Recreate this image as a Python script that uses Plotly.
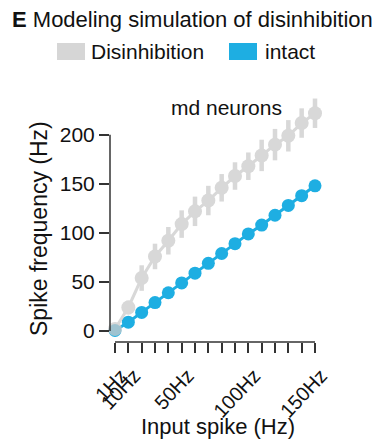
import plotly.graph_objects as go

input_hz = ["1Hz", "10Hz", "20Hz", "30Hz", "40Hz", "50Hz", "60Hz", "70Hz",
            "80Hz", "90Hz", "100Hz", "110Hz", "120Hz", "130Hz", "140Hz", "150Hz"]
intact = [0.5, 9, 19, 29, 39, 49, 59, 69, 79, 89, 99, 108, 118, 128, 138, 148]
disinhibition = [2, 24, 54, 76, 92, 109, 122, 133, 146, 158, 168, 179, 190, 199, 212, 222]
disinhibition_err = [2, 7, 13, 13, 14, 14, 15, 15, 14, 14, 14, 16, 16, 16, 15, 15]
x_tick_labels = ["1Hz", "10Hz", "", "", "", "50Hz", "", "", "", "",
                 "100Hz", "", "", "", "", "150Hz"]
y_ticks = [0, 50, 100, 150, 200]

BLUE = "#1eaee2"
GRAY = "#cbcbcb"
FONT = "Liberation Sans, Arial, sans-serif"

W, H = 375, 440
ML, MR, MT, MB = 110, 55, 95, 98
PW, PH = W - ML - MR, H - MT - MB


def px(x):
    return (x - ML) / PW


def py(y):
    return (H - MB - y) / PH


fig = go.Figure()
fig.add_trace(go.Scatter(
    x=input_hz, y=intact, mode="lines+markers",
    line=dict(color=BLUE, width=3),
    marker=dict(color=BLUE, size=13),
    showlegend=False, cliponaxis=False,
))
fig.add_trace(go.Scatter(
    x=input_hz, y=disinhibition, mode="lines+markers",
    line=dict(color=GRAY, width=3),
    marker=dict(color=GRAY, size=14),
    error_y=dict(type="data", array=disinhibition_err, color=GRAY,
                 thickness=4.5, width=0),
    opacity=0.75,
    showlegend=False, cliponaxis=False,
))

fig.update_xaxes(
    type="category", categoryorder="array", categoryarray=input_hz,
    range=[-0.375, 15.375], automargin=False,
    tickmode="array", tickvals=input_hz, ticktext=x_tick_labels,
    tickangle=-47, ticks="outside", ticklen=10, tickwidth=1.5, tickcolor="#333",
    ticklabelstandoff=3, ticklabelshift=6,
    showline=False, showgrid=False, zeroline=False,
    tickfont=dict(family=FONT, size=20, color="#111"),
)
fig.update_yaxes(
    range=[-11.2, 240.6], automargin=False,
    tickmode="array", tickvals=y_ticks,
    ticks="outside", ticklen=10, tickwidth=1.5, tickcolor="#333",
    showline=False, showgrid=False, zeroline=False,
    tickfont=dict(family=FONT, size=21, color="#111"),
)

# detached axis lines spanning only the tick range
fig.add_shape(type="line", xref="paper", yref="y", x0=0, x1=0,
              y0=min(y_ticks), y1=max(y_ticks), line=dict(color="#333", width=1.5))
fig.add_shape(type="line", xref="x", yref="paper", x0=input_hz[0], x1=input_hz[-1],
              y0=0, y1=0, line=dict(color="#333", width=1.5))

# manual legend
fig.add_shape(type="rect", xref="paper", yref="paper",
              x0=px(57), x1=px(85), y0=py(60), y1=py(43),
              fillcolor="#d6d6d6", line=dict(width=0))
fig.add_shape(type="rect", xref="paper", yref="paper",
              x0=px(229), x1=px(257), y0=py(60), y1=py(43),
              fillcolor=BLUE, line=dict(width=0))

ann_font = dict(family=FONT, size=21, color="#111")
fig.add_annotation(x=px(89), y=py(51), xref="paper", yref="paper",
                   text="Disinhibition", showarrow=False, xanchor="left",
                   yanchor="middle", font=ann_font)
fig.add_annotation(x=px(263), y=py(51), xref="paper", yref="paper",
                   text="intact", showarrow=False, xanchor="left",
                   yanchor="middle", font=ann_font)
fig.add_annotation(x=px(10), y=py(20), xref="paper", yref="paper",
                   text="<b>E</b> Modeling simulation of disinhibition",
                   showarrow=False, xanchor="left", yanchor="middle",
                   font=dict(family=FONT, size=22, color="#111"))
fig.add_annotation(x=px(226), y=py(107), xref="paper", yref="paper",
                   text="md neurons", showarrow=False, xanchor="center",
                   yanchor="middle", font=ann_font)
# axis titles
fig.add_annotation(x=px(218), y=0, yshift=-(426 - (H - MB)), xref="paper", yref="paper",
                   text="Input spike (Hz)", showarrow=False, xanchor="center",
                   yanchor="middle", font=dict(family=FONT, size=22, color="#111"))
fig.add_annotation(x=px(39), y=py(229), xref="paper", yref="paper",
                   text="Spike frequency (Hz)", showarrow=False, xanchor="center",
                   yanchor="middle", textangle=-90,
                   font=dict(family=FONT, size=23, color="#111"))

fig.update_layout(
    width=W, height=H,
    margin=dict(l=ML, r=MR, t=MT, b=MB, autoexpand=False),
    paper_bgcolor="white", plot_bgcolor="white",
    font=dict(family=FONT),
)

fig.write_html("out.html")
